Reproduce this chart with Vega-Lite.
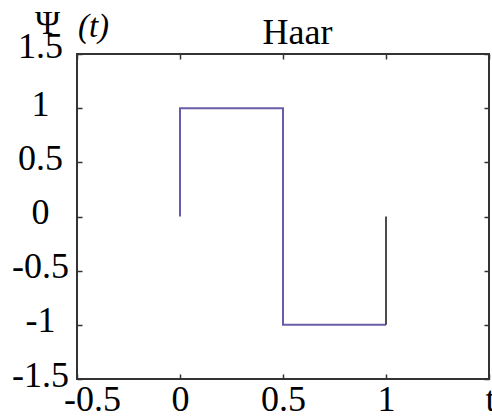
{
  "$schema": "https://vega.github.io/schema/vega-lite/v6.json",
  "width": 412,
  "height": 325,
  "autosize": {"type": "none"},
  "padding": {"left": 77, "top": 54, "right": 3, "bottom": 41},
  "background": "white",
  "config": {
    "view": {"stroke": "#333333", "strokeWidth": 2},
    "axis": {
      "grid": false,
      "domain": false,
      "ticks": true,
      "tickSize": -5,
      "tickColor": "#333333",
      "tickWidth": 1.5,
      "labelFont": "Liberation Serif",
      "labelFontSize": 36,
      "labelColor": "black",
      "titleFont": "Liberation Serif",
      "titleColor": "black",
      "titleFontWeight": "normal"
    }
  },
  "layer": [
    {
      "data": {
        "values": [
          {"i": 0, "t": 0, "psi": 0},
          {"i": 1, "t": 0, "psi": 1},
          {"i": 2, "t": 0.5, "psi": 1},
          {"i": 3, "t": 0.5, "psi": -1},
          {"i": 4, "t": 1, "psi": -1}
        ]
      },
      "mark": {"type": "line", "color": "#6b5ba9", "strokeWidth": 2, "interpolate": "linear"},
      "encoding": {
        "x": {
          "field": "t",
          "type": "quantitative",
          "scale": {"domain": [-0.5, 1.5], "nice": false, "zero": false},
          "axis": {
            "orient": "bottom",
            "values": [-0.5, 0, 0.5, 1, 1.5],
            "labelExpr": "datum.value == 1.5 ? 't' : toString(datum.value)",
            "labelAlign": "center",
            "labelBaseline": "alphabetic",
            "labelPadding": 36,
            "labelOffset": {"condition": [{"test": "datum.value == -0.5", "value": 15}, {"test": "datum.value == 1.5", "value": 1}], "value": 0},
            "labelOverlap": false,
            "title": null
          }
        },
        "y": {
          "field": "psi",
          "type": "quantitative",
          "scale": {"domain": [-1.5, 1.5], "nice": false, "zero": false},
          "axis": {
            "orient": "left",
            "values": [-1.5, -1, -0.5, 0, 0.5, 1, 1.5],
            "labelExpr": "toString(datum.value)",
            "labelAlign": "center",
            "labelBaseline": "alphabetic",
            "labelPadding": 42,
            "labelOffset": {"condition": {"test": "datum.value == 1.5", "value": 3}, "value": 7},
            "labelOverlap": false,
            "title": "Ψ",
            "titleAngle": 0,
            "titleFontSize": 34,
            "titleAlign": "center",
            "titleBaseline": "alphabetic",
            "titleX": -30,
            "titleY": -21
          }
        },
        "order": {"field": "i", "type": "quantitative"}
      }
    },
    {
      "data": {
        "values": [
          {"i": 0, "t": 1, "psi": -1},
          {"i": 1, "t": 1, "psi": 0}
        ]
      },
      "mark": {"type": "line", "color": "#4d4d4d", "strokeWidth": 2},
      "encoding": {
        "x": {
          "field": "t",
          "type": "quantitative",
          "scale": {"domain": [-0.5, 1.5], "nice": false, "zero": false},
          "axis": {
            "orient": "top",
            "values": [-0.5, 0, 0.5, 1, 1.5],
            "labels": false,
            "title": "Haar",
            "titleFontSize": 36,
            "titleAlign": "center",
            "titleBaseline": "alphabetic",
            "titleX": 220,
            "titleY": -11
          }
        },
        "y": {
          "field": "psi",
          "type": "quantitative",
          "scale": {"domain": [-1.5, 1.5], "nice": false, "zero": false},
          "axis": {
            "orient": "right",
            "values": [-1.5, -1, -0.5, 0, 0.5, 1, 1.5],
            "labels": false,
            "title": "(t)",
            "titleAngle": 0,
            "titleFontStyle": "italic",
            "titleFontSize": 33,
            "titleAlign": "center",
            "titleBaseline": "alphabetic",
            "titleX": -396,
            "titleY": -18
          }
        },
        "order": {"field": "i", "type": "quantitative"}
      }
    }
  ],
  "resolve": {"axis": {"x": "independent", "y": "independent"}}
}
